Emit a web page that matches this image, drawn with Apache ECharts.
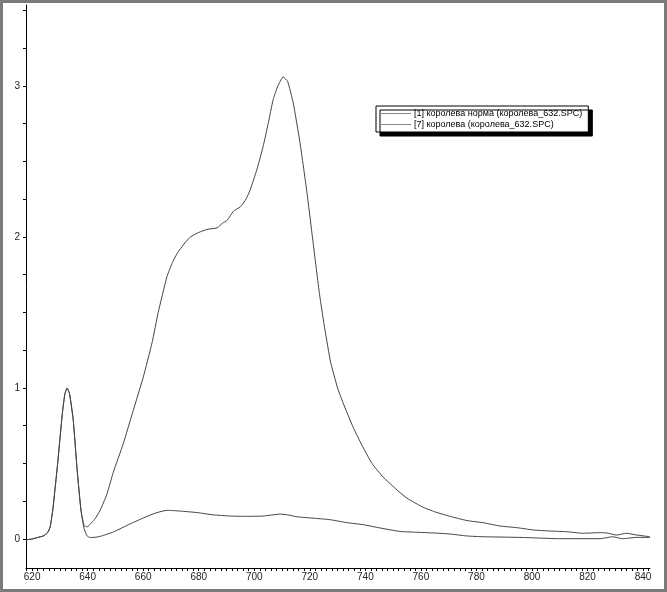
<!DOCTYPE html>
<html><head><meta charset="utf-8">
<script src="https://cdn.jsdelivr.net/npm/echarts@6/dist/echarts.min.js"></script>
<style>html,body{margin:0;padding:0;background:#fff}#c{width:667px;height:592px}</style>
</head><body><div id="c"></div>
<script>
// Series names
const seriesNames = ['[1] королева норма (королева_632.SPC)', '[7] королева (королева_632.SPC)'];
// Series 1 (норма): wavelength / intensity
const s1X = [617.8,620,622,624,625.5,626.5,627.5,628.3,629.2,630.1,631,631.8,632.6,633.5,634.8,636.2,637.6,638.7,639.8,641,642.5,644.5,647,649.2,652.8,656.4,660,663.2,665.4,668.6,670.5,672.2,675,677,680,683,686.6,688.5,690.2,692.5,695,697,698.5,701,703.2,705,706.8,708.5,710.4,712,714,716.5,719,721.2,723.5,725.5,727.5,730,732,735.6,738.8,742.4,746.4,751.4,755,760.8,765,770.5,776.6,782.4,788.5,794.6,800.4,806.5,812.6,818.4,824.5,827,830.5,834,837.8,842.5];
const s1Y = [-0.005,0.0,0.01,0.02,0.04,0.08,0.2,0.34,0.5,0.68,0.85,0.96,1.0,0.96,0.79,0.46,0.19,0.09,0.08,0.1,0.13,0.19,0.3,0.44,0.63,0.85,1.07,1.3,1.5,1.74,1.83,1.89,1.96,2.0,2.03,2.05,2.06,2.09,2.11,2.17,2.2,2.25,2.31,2.45,2.6,2.75,2.91,3.0,3.06,3.03,2.89,2.62,2.29,1.96,1.62,1.38,1.17,1.0,0.9,0.74,0.62,0.5,0.41,0.325,0.27,0.21,0.18,0.15,0.122,0.108,0.086,0.075,0.06,0.053,0.048,0.038,0.042,0.04,0.026,0.038,0.026,0.015];
// Series 7: wavelength / intensity
const s7X = [617.8,620,622,624,625.5,626.5,627.5,628.3,629.2,630.1,631,631.8,632.6,633.5,634.8,636.2,637.6,638.7,639.8,640.9,643,645,649.2,655.3,661.4,665,668.6,673.3,679.4,685.2,691.3,697,703.2,709.3,712,715.4,721.2,727.3,733.4,739.2,745.3,752.5,758,764.4,770.5,776.6,782.4,794.6,800,810,824.5,829,832.7,837.8,842.5];
const s7Y = [-0.005,0.0,0.01,0.02,0.04,0.08,0.2,0.34,0.5,0.68,0.85,0.96,1.0,0.96,0.79,0.46,0.19,0.07,0.02,0.01,0.012,0.02,0.046,0.1,0.15,0.175,0.19,0.185,0.175,0.16,0.152,0.15,0.152,0.165,0.16,0.147,0.138,0.128,0.108,0.095,0.073,0.05,0.045,0.04,0.033,0.02,0.015,0.011,0.008,0.002,0.002,0.015,0.002,0.011,0.01];
// Tick labels
const xLabels = [620,640,660,680,700,720,740,760,780,800,820,840];
const yLabels = [0,1,2,3];

const xTicks = []; for (let v = 618; v <= 842; v += 2) xTicks.push(v);
const yTicks = []; for (let v = 0; v <= 3.5; v += 0.25) yTicks.push(v);

const zip = (xs, ys) => xs.map((x, i) => [x, ys[i]]);
const chart = echarts.init(document.getElementById('c'), null, {renderer: 'canvas'});
const fontFamily = '"Liberation Sans", Arial, sans-serif';
chart.setOption({
  animation: false,
  backgroundColor: '#fff',
  grid: {left: 26, right: 17, top: 5, bottom: 24, containLabel: false},
  xAxis: {
    type: 'value', min: 617.8, max: 842.5,
    axisLine: {show: true, onZero: false, lineStyle: {color: '#000', width: 1}},
    axisTick: {show: true, length: 3, customValues: xTicks, lineStyle: {color: '#000'}},
    axisLabel: {customValues: xLabels, color: '#222', fontSize: 10, fontFamily, margin: 4},
    splitLine: {show: false}
  },
  yAxis: {
    type: 'value', min: -0.192, max: 3.536,
    axisLine: {show: true, onZero: false, lineStyle: {color: '#000', width: 1}},
    axisTick: {show: true, length: 3, customValues: yTicks, lineStyle: {color: '#000'}},
    axisLabel: {customValues: yLabels, color: '#222', fontSize: 10, fontFamily, margin: 6},
    splitLine: {show: false}
  },
  legend: {
    orient: 'vertical', left: 376, top: 106,
    data: seriesNames,
    itemWidth: 30, itemHeight: 8, itemGap: 2,
    padding: [3, 6, 3, 5],
    backgroundColor: '#fff', borderColor: '#000', borderWidth: 1,
    shadowColor: '#000', shadowBlur: 0, shadowOffsetX: 4, shadowOffsetY: 4,
    textStyle: {fontSize: 9, fontFamily, color: '#000', padding: [0,0,0,-2]},
    icon: 'path://M0,5 L30,5 L30,6 L0,6 Z',
    itemStyle: {color: '#888'}
  },
  graphic: [{
    type: 'rect', silent: true, z: 100,
    shape: {x: 1.5, y: 1.5, width: 664, height: 589},
    style: {fill: 'none', stroke: '#7a7a7a', lineWidth: 3}
  }],
  series: [
    {name: seriesNames[0], type: 'line', data: zip(s1X, s1Y), symbol: 'none', smooth: 0.15,
     lineStyle: {color: '#444', width: 1}, itemStyle: {color: '#888'}},
    {name: seriesNames[1], type: 'line', data: zip(s7X, s7Y), symbol: 'none', smooth: 0.15,
     lineStyle: {color: '#444', width: 1}, itemStyle: {color: '#888'}}
  ]
});
</script></body></html>
